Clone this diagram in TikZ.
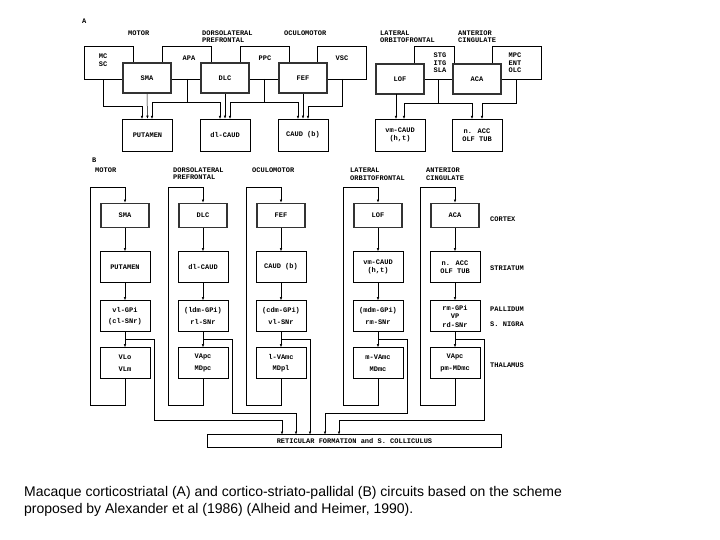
\documentclass[tikz,border=0pt]{standalone}
\usepackage{fontspec}
\setmainfont{Liberation Sans}
\newfontfamily\dmono{Liberation Mono}
\usetikzlibrary{arrows.meta}
\begin{document}
\begin{tikzpicture}[x=1pt,y=-1pt,
  lab/.style={font=\dmono\bfseries\fontsize{7}{7.5}\selectfont,inner sep=0pt,align=left,anchor=west},
  box/.style={draw,line width=0.6pt,fill=white,minimum width=50pt,minimum height=32pt,inner sep=0pt,font=\dmono\bfseries\fontsize{7}{8.5}\selectfont,align=center},
  bg/.style={draw,line width=0.6pt,fill=white,minimum width=49pt,minimum height=33pt,inner sep=0pt},
  cbox/.style={box,line width=1.8pt,draw=black!80,minimum width=48pt,minimum height=30pt},
  ln/.style={line width=0.5pt},
  ar/.style={ln,-{Latex[length=3pt,width=2.5pt]}},
  txt/.style={font=\dmono\bfseries\fontsize{7}{7.5}\selectfont,inner sep=0pt,align=center}]
\useasboundingbox (0,0) rectangle (720,540);
% ---------- Panel A ----------
\node[lab] (la) at (82,21) {A};
\node[lab] (a1) at (128,33) {MOTOR};
\node[lab] (a2) at (202,36.5) {DORSOLATERAL\\PREFRONTAL};
\node[lab] (a3) at (284,33) {OCULOMOTOR};
\node[lab] (a4) at (380,36.5) {LATERAL\\ORBITOFRONTAL};
\node[lab] (a5) at (458,36.5) {ANTERIOR\\CINGULATE};
\node[bg] (mc) at (108.5,63) {};
\node[bg] (apa) at (186.5,62.5) {};
\node[bg] (ppc) at (264.5,62.5) {};
\node[bg] (vsc) at (341.5,62.5) {};
\node[bg,minimum width=40pt] (stg) at (434,63) {};
\node[bg] (mpc) at (516.5,63) {};
\node[txt] (mct) at (103,60) {MC\\SC};
\node[txt] (apat) at (189,58) {APA};
\node[txt] (ppct) at (265,58) {PPC};
\node[txt] (vsct) at (342,58) {VSC};
\node[txt] (stgt) at (440,63) {STG\\ITG\\SLA};
\node[txt] (mpct) at (515,63) {MPC\\ENT\\OLC};
\node[cbox] (sma) at (147,78) {SMA};
\node[cbox] (dlc) at (225,78) {DLC};
\node[cbox] (fef) at (303,78) {FEF};
\node[cbox] (lof) at (400,79) {LOF};
\node[cbox] (aca) at (477,79) {ACA};
\node[box] (put) at (147.5,135) {PUTAMEN};
\node[box] (dlca) at (225,135) {dl-CAUD};
\node[box] (caud) at (303,135) {CAUD (b)};
\node[box] (vmc) at (400,135) {vm-CAUD\\(h,t)};
\node[box] (nacc) at (477,135) {n. ACC\\OLF TUB};
% connectors A
\draw[ar] (sma.south) -- (put.north);
\draw[ar] (dlc.south) -- (dlca.north);
\draw[ar] (fef.south) -- (caud.north);
\draw[ar] (103,79.5) |- (142,106) -- (142,119);
\draw[ar] (187,79) |- (152,102) -- (152,119);
\draw[ar] (187,102) -| (220,119);
\draw[ar] (264,79) |- (230,102) -- (230,119);
\draw[ar] (264,102) -| (298,119);
\draw[ar] (342,79) |- (308,106) -- (308,119);
\draw[ar] (396,94) -- (396,119);
\draw[ar] (438,79.5) |- (404,103) -- (404,119);
\draw[ar] (438,103) -| (472,119);
\draw[ar] (516,79.5) |- (482,103) -- (482,119);
% ---------- Panel B ----------
\node[lab] (lb) at (92,160) {B};
\node[lab] (b1) at (95,170) {MOTOR};
\node[lab] (b2) at (173,173.5) {DORSOLATERAL\\PREFRONTAL};
\node[lab] (b3) at (252,170) {OCULOMOTOR};
\node[lab] (b4) at (350,174) {LATERAL\\ORBITOFRONTAL};
\node[lab] (b5) at (426,174) {ANTERIOR\\CINGULATE};
\node[lab] (r1) at (490,219) {CORTEX};
\node[lab] (r2) at (490,268) {STRIATUM};
\node[lab] (r3) at (490,309) {PALLIDUM};
\node[lab] (r4) at (490,324) {S. NIGRA};
\node[lab] (r5) at (490,365) {THALAMUS};
\foreach \n/\x/\a/\b/\c/\d in {m/125/SMA/PUTAMEN/{vl-GPi\\[3pt](cl-SNr)}/{VLo\\[3pt]VLm},
  d/203/DLC/dl-CAUD/{(ldm-GPi)\\[3pt]rl-SNr}/{VApc\\[3pt]MDpc},
  o/281/FEF/CAUD (b)/{(cdm-GPi)\\[3pt]vl-SNr}/{l-VAmc\\[3pt]MDpl},
  l/378/LOF/{vm-CAUD\\(h,t)}/{(mdm-GPi)\\[3pt]rm-SNr}/{m-VAmc\\[3pt]MDmc},
  a/455/ACA/{n. ACC\\OLF TUB}/{rm-GPi\\VP\\rd-SNr}/{VApc\\[3pt]pm-MDmc}}{
  \pgfmathsetmacro{\xl}{\x-35}
  \node[cbox,minimum height=24pt] (c\n) at (\x,215.5) {\a};
  \node[box,minimum height=31pt] (s\n) at (\x,267) {\b};
  \node[box,minimum height=31pt] (p\n) at (\x,316) {\c};
  \node[box,minimum height=31pt] (t\n) at (\x,363) {\d};
  \draw[ar] (c\n) -- (s\n);
  \draw[ar] (s\n) -- (p\n);
  \draw[ar] (p\n) -- (t\n);
  \draw[ar] (t\n.south) -- ++(0,26) -| (\xl,187) -| (c\n.north);
}
\node[draw,line width=1.6pt,minimum width=294pt,minimum height=13pt,inner sep=0pt,font=\dmono\bfseries\fontsize{7}{7.5}\selectfont] (rf) at (354.5,441) {RETICULAR FORMATION and S. COLLICULUS};
\draw[ar] (125,339) -| (154,420) -| (282,434.5);
\draw[ar] (203,339) -| (232,413) -| (296,434.5);
\draw[ar] (281,339) -| (310,434.5);
\draw[ar] (378,339) -| (407,413) -| (325,434.5);
\draw[ar] (455,339) -| (484,420) -| (339,434.5);
% caption
\node[anchor=west,inner sep=0pt,font=\fontsize{14}{17}\selectfont,align=left] (cap) at (24,501.5) {Macaque corticostriatal (A) and cortico-striato-pallidal (B) circuits based on the scheme\\proposed by Alexander et al (1986) (Alheid and Heimer, 1990).};
\end{tikzpicture}
\end{document}
